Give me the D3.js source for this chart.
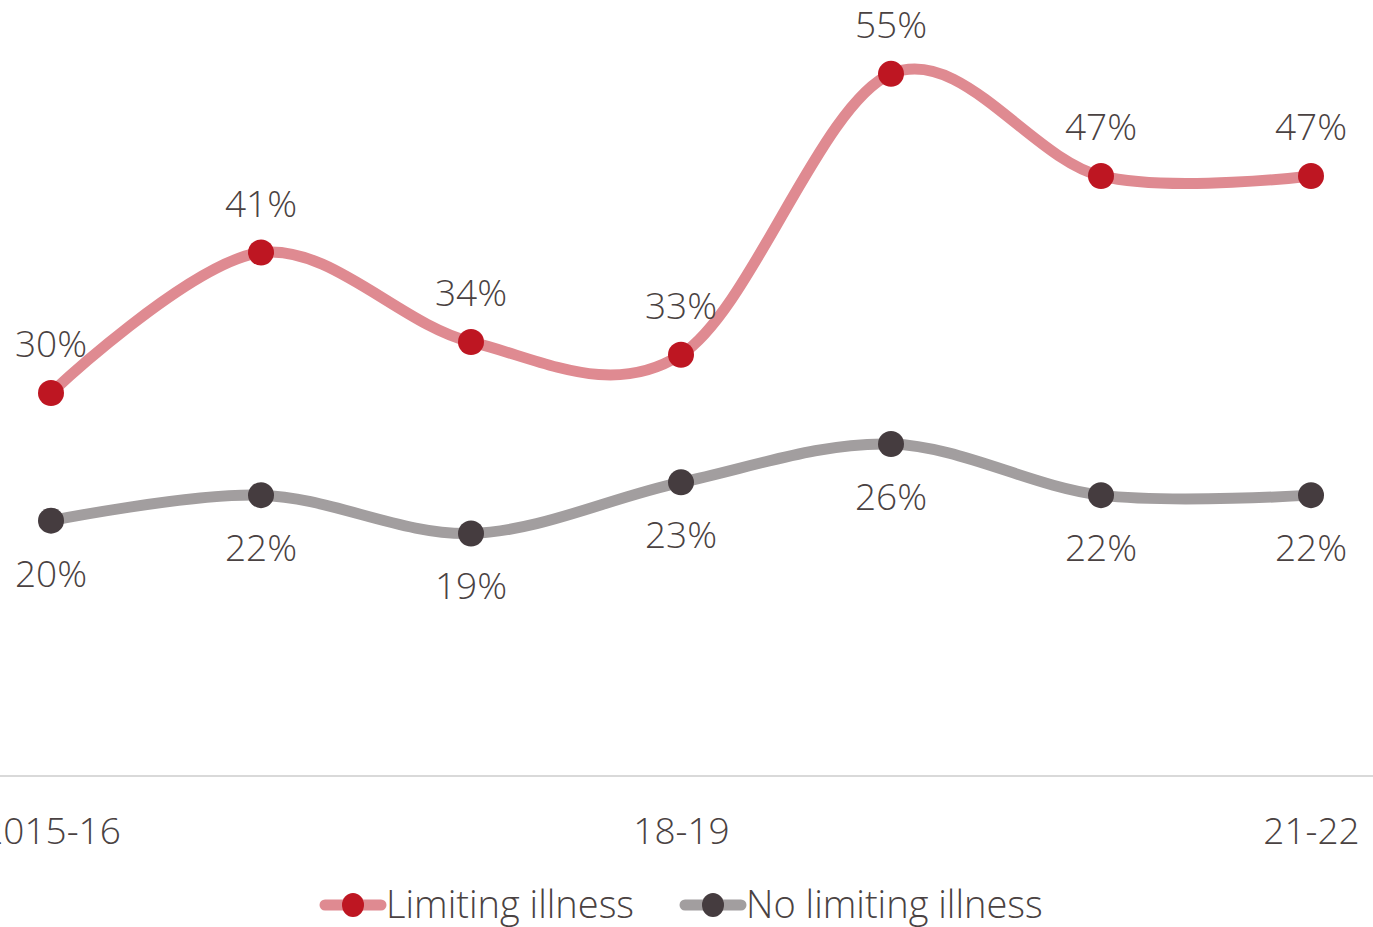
<!DOCTYPE html>
<html>
<head>
<meta charset="utf-8">
<script src="https://cdn.jsdelivr.net/npm/d3@7"></script>
<style>
  html, body { margin: 0; padding: 0; background: #ffffff; overflow: hidden; }
  svg { display: block; }
  text { font-family: "Open Sans", "Noto Sans", sans-serif; font-weight: 300; fill: #4a4242; }
</style>
</head>
<body>
<svg id="chart" width="1373" height="927"></svg>
<script>
// Survey years on the x axis
const years = ["2015-16", "2016-17", "2017-18", "2018-19", "2019-20", "2020-21", "2021-22"];
// Only every third year gets an axis label
const tickLabels = ["2015-16", "18-19", "21-22"];
const tickYears = ["2015-16", "2018-19", "2021-22"];
// Share of respondents (%)
const limitingIllness = [30, 41, 34, 33, 55, 47, 47];
const noLimitingIllness = [20, 22, 19, 23, 26, 22, 22];
const seriesNames = ["Limiting illness", "No limiting illness"];

const svg = d3.select("#chart");
const W = 1373, H = 927;
const FONT = "37px";

const x = d3.scalePoint().domain(years).range([51, 1311]);
const y = d3.scaleLinear().domain([0, 60]).range([776, 10]);

const series = [
  { name: seriesNames[0], values: limitingIllness, line: "#df8a91", dot: "#be1622", labelPos: "above" },
  { name: seriesNames[1], values: noLimitingIllness, line: "#a29e9f", dot: "#453c3f", labelPos: "below" }
];

// Baseline
svg.append("line")
  .attr("x1", 0).attr("x2", W)
  .attr("y1", y(0)).attr("y2", y(0))
  .attr("stroke", "#d9d9d9").attr("stroke-width", 2);

// X axis labels
const xAxis = d3.axisBottom(x)
  .tickValues(tickYears)
  .tickSize(0)
  .tickPadding(0)
  .tickFormat(d => tickLabels[tickYears.indexOf(d)]);
const gx = svg.append("g").attr("transform", `translate(0, ${y(0)})`).call(xAxis);
gx.select(".domain").remove();
gx.selectAll("text")
  .attr("y", 55)
  .attr("dy", "0.35em")
  .style("font-size", FONT)
  .style("font-family", "\"Open Sans\", sans-serif")
  .style("font-weight", 300)
  .style("fill", "#4a4242");

const line = d3.line()
  .x((d, i) => x(years[i]))
  .y(d => y(d))
  .curve(d3.curveCatmullRom.alpha(0));

series.forEach(s => {
  const g = svg.append("g");
  g.append("path")
    .datum(s.values)
    .attr("d", line)
    .attr("fill", "none")
    .attr("stroke", s.line)
    .attr("stroke-width", 11)
    .attr("stroke-linecap", "round");
  g.selectAll("circle")
    .data(s.values)
    .join("circle")
    .attr("cx", (d, i) => x(years[i]))
    .attr("cy", d => y(d))
    .attr("r", 13)
    .attr("fill", s.dot);
  g.selectAll("text.val")
    .data(s.values)
    .join("text")
    .attr("class", "val")
    .attr("x", (d, i) => x(years[i]))
    .attr("y", d => y(d) + (s.labelPos === "above" ? -49 : 53))
    .attr("dy", "0.35em")
    .attr("text-anchor", "middle")
    .style("font-size", FONT)
    .text(d => d + "%");
});

// Legend
const legend = svg.append("g").attr("transform", "translate(0, 905)");
const legendItems = [
  { x: 320, s: series[0] },
  { x: 680, s: series[1] }
];
legendItems.forEach(({ x: lx, s }) => {
  const item = legend.append("g").attr("transform", `translate(${lx}, 0)`);
  item.append("line")
    .attr("x1", 5).attr("x2", 61)
    .attr("y1", 0).attr("y2", 0)
    .attr("stroke", s.line).attr("stroke-width", 11)
    .attr("stroke-linecap", "round");
  item.append("ellipse")
    .attr("cx", 33).attr("cy", 0)
    .attr("rx", 11).attr("ry", 12)
    .attr("fill", s.dot);
  item.append("text")
    .attr("x", 66).attr("y", 0)
    .attr("dy", "0.35em")
    .style("font-size", "38px")
    .text(s.name);
});
</script>
</body>
</html>
